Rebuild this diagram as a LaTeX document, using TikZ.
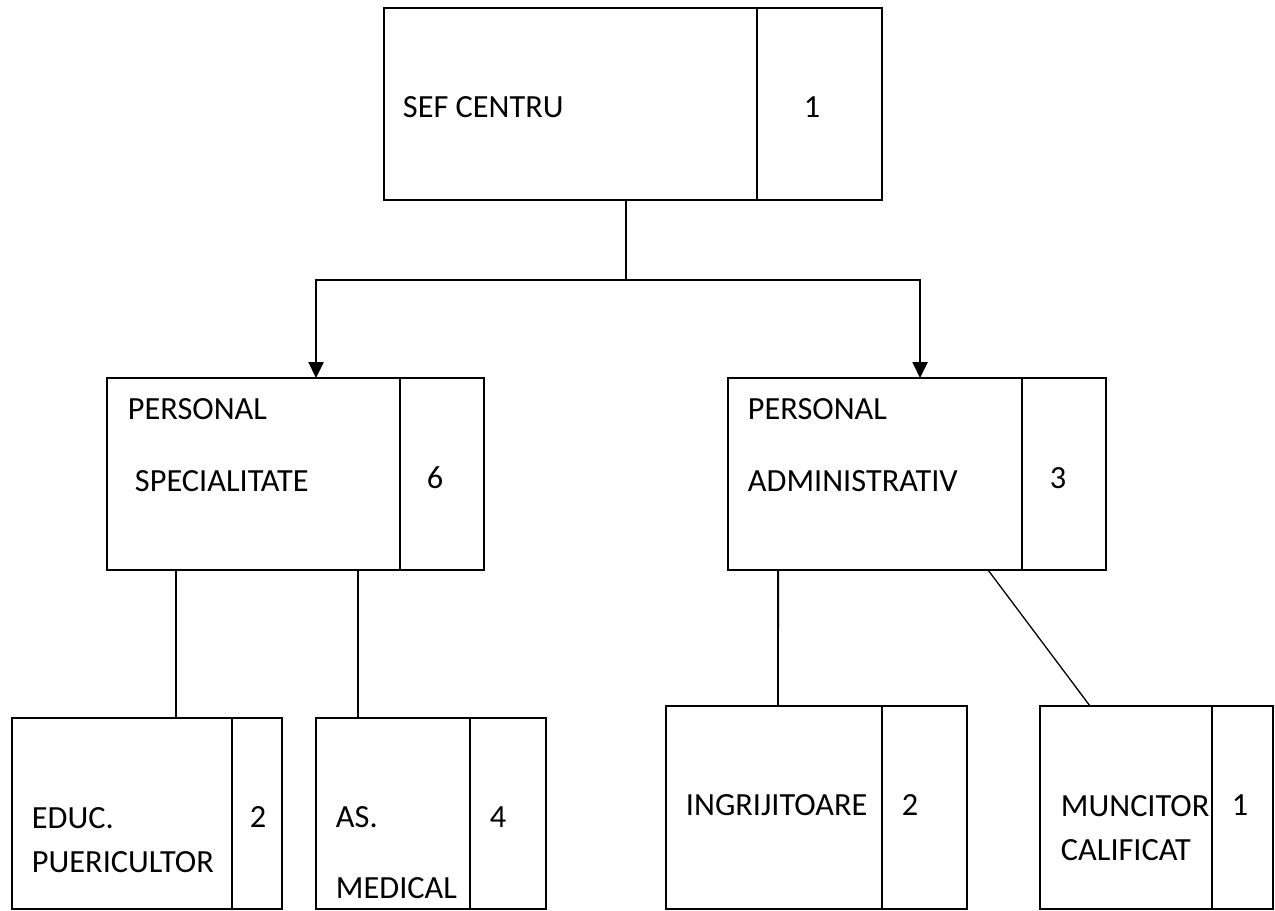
\documentclass[tikz,border=0pt]{standalone}
\usepackage{fontspec}
\setmainfont{Carlito}
\usetikzlibrary{arrows.meta, positioning, calc}
\tikzset{>={Triangle[length=9pt, width=8.5pt]}}

\begin{document}
\begin{tikzpicture}[x=0.02cm, y=-0.02cm, line width=1.1pt,
	box/.style={draw, inner sep=0pt, outer sep=0pt},
	lbl/.style={anchor=base west, inner sep=0pt, font=\fontsize{18.4}{22}\selectfont},
	num/.style={anchor=base, inner sep=0pt, font=\fontsize{18.4}{22}\selectfont}]

	\useasboundingbox (0,0) rectangle (1275,910);

	% boxes
	\node[box, minimum width=7.46cm, minimum height=3.84cm] (sef) at (570.5,104) {};
	\node[box, minimum width=2.5cm, minimum height=3.84cm, right=0pt of sef] (sefn) {};
	\node[box, minimum width=5.86cm, minimum height=3.84cm] (spec) at (253.5,474) {};
	\node[box, minimum width=1.68cm, minimum height=3.84cm, right=0pt of spec] (specn) {};
	\node[box, minimum width=5.88cm, minimum height=3.84cm] (adm) at (875,474) {};
	\node[box, minimum width=1.68cm, minimum height=3.84cm, right=0pt of adm] (admn) {};
	\node[box, minimum width=4.4cm, minimum height=3.82cm] (educ) at (122,813.5) {};
	\node[box, minimum width=1.0cm, minimum height=3.82cm, right=0pt of educ] (educn) {};
	\node[box, minimum width=3.08cm, minimum height=3.82cm] (med) at (393,813.5) {};
	\node[box, minimum width=1.52cm, minimum height=3.82cm, right=0pt of med] (medn) {};
	\node[box, minimum width=4.32cm, minimum height=4.06cm] (ingr) at (774,807.5) {};
	\node[box, minimum width=1.7cm, minimum height=4.06cm, right=0pt of ingr] (ingrn) {};
	\node[box, minimum width=3.44cm, minimum height=4.06cm] (munc) at (1126,807.5) {};
	\node[box, minimum width=1.22cm, minimum height=4.06cm, right=0pt of munc] (muncn) {};

	% texts
	\node[lbl] (sefT) at (402,117) {SEF CENTRU};
	\node[num] (sefK) at (812,117) {1};
	\node[lbl] (specT) at (127,419) {PERSONAL};
	\node[lbl] (specU) at (134,491) {SPECIALITATE};
	\node[num] (specK) at (435,488) {6};
	\node[lbl] (admT) at (747,419) {PERSONAL};
	\node[lbl] (admU) at (747,491) {ADMINISTRATIV};
	\node[num] (admK) at (1058,488) {3};
	\node[lbl] (educT) at (31,828) {EDUC.};
	\node[lbl] (educU) at (31,872) {PUERICULTOR};
	\node[num] (educK) at (258,827) {2};
	\node[lbl] (medT) at (335,827) {AS.};
	\node[lbl] (medU) at (335,898) {MEDICAL};
	\node[num] (medK) at (498,827) {4};
	\node[lbl] (ingrT) at (685,815) {INGRIJITOARE};
	\node[num] (ingrK) at (910,815) {2};
	\node[lbl] (muncT) at (1060,816) {MUNCITOR};
	\node[lbl] (muncU) at (1060,860) {CALIFICAT};
	\node[num] (muncK) at (1240,815) {1};

	% connectors
	\coordinate (split) at ($(sef.south west)+(242,80)$);
	\draw ($(sef.south west)+(242,0)$) -- (split);
	\draw[->] (split) -| ($(spec.north west)+(209,0)$);
	\draw[->] (split) -| ($(adm.north west)+(192,0)$);
	\draw ($(spec.south west)+(69,0)$) -- ($(educ.north west)+(164,0)$);
	\draw ($(spec.south west)+(251,0)$) -- ($(med.north west)+(42,0)$);
	\draw ($(adm.south west)+(50,0)$) -- ($(ingr.north west)+(112,0)$);
	\draw[line width=0.75pt] ($(adm.south west)+(260,0)$) -- ($(munc.north west)+(50,0)$);
\end{tikzpicture}
\end{document}
